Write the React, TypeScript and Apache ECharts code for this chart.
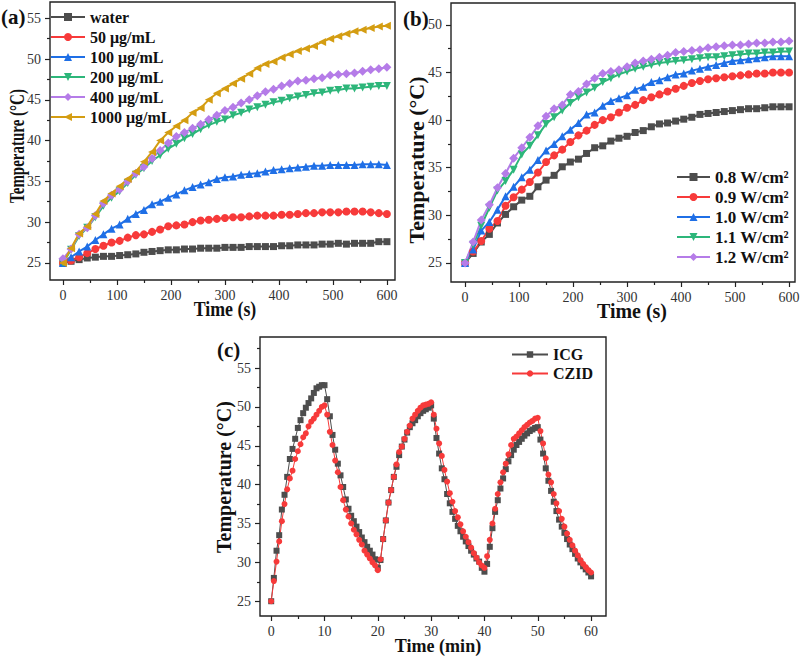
import React, { useEffect, useRef } from "react";
import * as echarts from "echarts";

// ---------- Data ----------
const timeS = [0, 15, 30, 45, 60, 75, 90, 105, 120, 135, 150, 165, 180, 195, 210, 225, 240, 255, 270, 285, 300, 315, 330, 345, 360, 375, 390, 405, 420, 435, 450, 465, 480, 495, 510, 525, 540, 555, 570, 585, 600];

// Panel (a): concentration series
const concNames = ["water", "50 μg/mL", "100 μg/mL", "200 μg/mL", "400 μg/mL", "1000 μg/mL"];
const water = [25.0, 25.2, 25.4, 25.6, 25.7, 25.8, 25.8, 25.9, 26.0, 26.1, 26.3, 26.4, 26.5, 26.6, 26.6, 26.7, 26.7, 26.8, 26.8, 26.8, 26.9, 26.9, 26.9, 27.0, 27.0, 27.0, 27.0, 27.1, 27.1, 27.2, 27.2, 27.2, 27.3, 27.3, 27.4, 27.3, 27.4, 27.4, 27.4, 27.6, 27.6];
const c50 = [25.0, 25.3, 25.7, 26.2, 26.7, 27.1, 27.5, 27.7, 28.1, 28.4, 28.5, 28.8, 29.1, 29.5, 29.6, 29.7, 30.0, 30.2, 30.3, 30.4, 30.5, 30.6, 30.6, 30.7, 30.8, 30.8, 30.8, 30.9, 30.9, 31.0, 31.1, 31.1, 31.2, 31.2, 31.2, 31.3, 31.3, 31.3, 31.2, 31.1, 31.0];
const c100 = [25.0, 25.7, 26.4, 27.0, 27.8, 28.5, 29.2, 29.7, 30.4, 31.0, 31.5, 32.2, 32.5, 33.0, 33.4, 33.9, 34.3, 34.6, 34.9, 35.3, 35.5, 35.6, 35.8, 35.9, 36.0, 36.2, 36.4, 36.5, 36.6, 36.7, 36.8, 36.9, 36.9, 37.0, 37.0, 37.0, 37.0, 37.1, 37.1, 37.1, 37.0];
const c200 = [25.0, 26.6, 28.3, 29.3, 30.6, 32.0, 33.0, 33.8, 34.8, 35.8, 36.6, 37.5, 38.2, 39.0, 39.6, 40.3, 40.8, 41.4, 41.9, 42.3, 42.6, 43.1, 43.4, 43.8, 44.1, 44.4, 44.7, 44.9, 45.2, 45.4, 45.6, 45.8, 45.9, 46.1, 46.2, 46.4, 46.4, 46.5, 46.6, 46.7, 46.7];
const c400 = [25.5, 26.7, 28.5, 29.3, 30.8, 32.3, 33.3, 34.0, 35.0, 36.0, 36.8, 37.8, 38.8, 39.7, 40.5, 41.0, 41.5, 42.0, 42.6, 43.1, 43.7, 44.1, 44.6, 45.0, 45.5, 46.0, 46.3, 46.7, 47.0, 47.3, 47.4, 47.6, 47.7, 48.0, 48.1, 48.2, 48.3, 48.5, 48.7, 48.8, 49.0];
const c1000 = [25.0, 26.8, 28.6, 29.5, 31.0, 32.6, 33.5, 34.4, 35.3, 36.2, 37.4, 38.6, 40.0, 41.0, 41.8, 42.5, 43.4, 44.0, 45.0, 45.8, 46.4, 47.0, 47.6, 48.2, 48.9, 49.4, 49.7, 50.2, 50.6, 51.0, 51.3, 51.6, 52.1, 52.5, 52.8, 53.1, 53.4, 53.6, 53.8, 54.0, 54.1];

// Panel (b): power density series
const powerNames = ["0.8 W/cm²", "0.9 W/cm²", "1.0 W/cm²", "1.1 W/cm²", "1.2 W/cm²"];
const p08 = [25.0, 26.0, 27.2, 28.0, 29.2, 30.1, 30.9, 31.6, 32.0, 33.0, 33.7, 34.2, 35.1, 35.6, 35.9, 36.5, 37.1, 37.3, 37.8, 38.1, 38.3, 38.7, 38.9, 39.3, 39.6, 39.7, 39.9, 40.1, 40.3, 40.6, 40.7, 40.8, 40.9, 41.0, 41.1, 41.2, 41.2, 41.3, 41.4, 41.4, 41.4];
const p09 = [25.0, 26.2, 27.3, 28.6, 29.4, 31.0, 31.9, 32.7, 33.5, 34.5, 35.6, 36.3, 36.9, 37.7, 38.4, 38.9, 39.5, 40.0, 40.3, 40.8, 41.3, 41.6, 42.1, 42.4, 42.7, 43.0, 43.3, 43.6, 43.9, 44.1, 44.3, 44.4, 44.5, 44.6, 44.7, 44.8, 44.9, 44.9, 45.0, 45.0, 45.0];
const p10 = [25.0, 26.4, 28.4, 29.3, 30.6, 32.0, 33.0, 34.0, 34.8, 35.8, 36.8, 37.5, 38.3, 39.0, 39.7, 40.6, 40.8, 41.5, 42.0, 42.3, 42.6, 43.2, 43.5, 44.0, 44.2, 44.5, 44.8, 44.9, 45.2, 45.4, 45.6, 45.8, 46.0, 46.2, 46.3, 46.4, 46.5, 46.6, 46.7, 46.7, 46.7];
const p11 = [25.0, 26.9, 28.9, 30.8, 32.6, 33.6, 34.8, 36.4, 37.3, 38.4, 39.6, 40.3, 41.0, 41.8, 42.4, 42.9, 43.4, 44.0, 44.4, 44.8, 45.1, 45.4, 45.6, 45.8, 46.0, 46.1, 46.2, 46.3, 46.4, 46.5, 46.6, 46.6, 46.7, 46.8, 46.9, 47.0, 47.0, 47.1, 47.1, 47.2, 47.2];
const p12 = [25.0, 27.2, 29.5, 31.1, 32.9, 34.4, 36.0, 37.1, 38.2, 39.4, 40.4, 41.2, 41.6, 42.7, 43.0, 43.8, 44.4, 44.9, 45.1, 45.3, 45.6, 46.0, 46.2, 46.4, 46.6, 46.8, 47.1, 47.2, 47.3, 47.4, 47.6, 47.7, 47.8, 47.9, 47.9, 48.0, 48.1, 48.1, 48.2, 48.2, 48.3];

// Panel (c): heating/cooling cycles
const timeMin = [
  0, 0.5, 1, 1.5, 2, 2.5, 3, 3.5, 4, 4.5, 5, 5.5, 6, 6.5, 7, 7.5, 8, 8.5, 9, 9.5, 10,
  10.5, 11, 11.5, 12, 12.5, 13, 13.5, 14, 14.5, 15, 15.5, 16, 16.5, 17, 17.5, 18, 18.5, 19, 19.5, 20,
  20.5, 21, 21.5, 22, 22.5, 23, 23.5, 24, 24.5, 25, 25.5, 26, 26.5, 27, 27.5, 28, 28.5, 29, 29.5, 30,
  30.5, 31, 31.5, 32, 32.5, 33, 33.5, 34, 34.5, 35, 35.5, 36, 36.5, 37, 37.5, 38, 38.5, 39, 39.5, 40,
  40.5, 41, 41.5, 42, 42.5, 43, 43.5, 44, 44.5, 45, 45.5, 46, 46.5, 47, 47.5, 48, 48.5, 49, 49.5, 50,
  50.5, 51, 51.5, 52, 52.5, 53, 53.5, 54, 54.5, 55, 55.5, 56, 56.5, 57, 57.5, 58, 58.5, 59, 59.5, 60,
];
const icg = [
  25.0, 28.0, 31.5, 33.5, 36.8, 38.7, 41.0, 43.3, 44.6, 45.9, 47.3, 48.3, 49.2, 49.9, 50.5, 51.1, 51.8, 52.4, 52.6, 52.8, 52.8,
  51.0, 48.8, 46.4, 44.5, 42.7, 41.2, 39.7, 38.1, 36.9, 36.0, 35.3, 34.6, 33.9, 33.2, 32.6, 32.0, 31.5, 31.0, 30.4, 29.3,
  30.3, 33.0, 35.4, 37.7, 39.3, 41.0, 42.3, 43.8, 44.9, 45.8, 46.7, 47.4, 47.9, 48.3, 48.8, 49.2, 49.5, 49.7, 49.9, 50.2,
  48.5, 46.0, 44.0, 42.1, 40.7, 38.8, 37.6, 36.5, 35.6, 34.7, 34.0, 33.3, 32.7, 32.1, 31.5, 31.0, 30.5, 30.1, 29.3, 28.8,
  29.8, 32.0, 34.4, 36.5, 38.0, 39.5, 40.8, 42.0, 43.0, 43.8, 44.5, 45.1, 45.5, 45.9, 46.3, 46.6, 46.9, 47.1, 47.3, 47.4,
  45.8, 44.0, 42.1, 40.5, 39.2, 37.8, 36.6, 35.5, 34.6, 33.8, 33.0, 32.3, 31.7, 31.1, 30.5, 30.0, 29.5, 29.1, 28.7, 28.2,
];
const czid = [
  25.0, 27.6, 30.1, 32.7, 35.3, 37.5, 39.4, 40.8, 41.8, 43.3, 44.3, 45.2, 46.1, 46.6, 47.5, 48.1, 48.5, 49.0, 49.5, 50.0, 50.2,
  49.0, 46.8, 45.1, 43.1, 41.6, 39.7, 38.0, 36.8, 35.9, 35.0, 34.2, 33.6, 32.9, 32.3, 31.5, 31.0, 30.5, 30.0, 29.6, 29.0,
  30.4, 33.0, 35.4, 37.7, 39.3, 41.0, 42.6, 44.2, 44.9, 45.9, 46.8, 47.6, 48.5, 49.0, 49.5, 49.9, 50.2, 50.3, 50.4, 50.6,
  49.0, 47.2, 45.3, 43.7, 41.9, 40.4, 38.9, 37.8, 36.6, 35.8, 34.9, 34.0, 33.3, 32.6, 31.9, 31.2, 30.6, 30.0, 29.6, 29.3,
  30.8, 32.9, 35.0, 36.9, 38.8, 40.3, 41.6, 42.7, 43.9, 45.1, 45.9, 46.2, 46.6, 47.0, 47.4, 47.7, 48.0, 48.2, 48.5, 48.6,
  46.9, 45.3, 43.4, 41.3, 40.3, 38.8, 37.6, 36.6, 35.6, 34.6, 33.7, 32.9, 32.2, 31.5, 30.9, 30.3, 29.8, 29.4, 29.0, 28.7,
];
const cycleNames = ["ICG", "CZID"];

// Tick values
const ticksS = [0, 100, 200, 300, 400, 500, 600];
const minorS = [50, 150, 250, 350, 450, 550];
const ticksYa = [25, 30, 35, 40, 45, 50, 55];
const minorYa = [27.5, 32.5, 37.5, 42.5, 47.5, 52.5];
const ticksYb = [25, 30, 35, 40, 45, 50];
const minorYb = [27.5, 32.5, 37.5, 42.5, 47.5];
const ticksMin = [0, 10, 20, 30, 40, 50, 60];
const minorMin = [5, 15, 25, 35, 45, 55];
const ticksYc = [25, 30, 35, 40, 45, 50, 55];
const minorYc = [27.5, 32.5, 37.5, 42.5, 47.5, 52.5, 57.5];

// ---------- Styles ----------
const SERIF = "Liberation Serif";
const COLORS = {
  gray: "#4d4d4d",
  red: "#f73a3a",
  blue: "#1f6fe6",
  green: "#2db67a",
  purple: "#b57ce8",
  gold: "#d49d12",
};

function pairs(xs: number[], ys: number[]) {
  return xs.map((x, i) => [x, ys[i]]);
}

function mainAxis(gridIndex: number, min: number, max: number, ticks: number[], margin: number, fontSize: number, pos: string) {
  return {
    type: "value",
    gridIndex,
    min,
    max,
    position: pos,
    offset: 0,
    axisLine: { show: false, onZero: false },
    splitLine: { show: false },
    axisTick: { show: true, inside: false, customValues: ticks, length: 5, lineStyle: { color: "#222", width: 1.2 } },
    axisLabel: { customValues: ticks, margin, color: "#333", fontFamily: SERIF, fontSize },
  };
}
function minorAxis(gridIndex: number, min: number, max: number, ticks: number[], pos: string) {
  return {
    type: "value",
    gridIndex,
    min,
    max,
    position: pos,
    offset: 0,
    axisLine: { show: false, onZero: false },
    splitLine: { show: false },
    axisLabel: { show: true, customValues: ticks, formatter: () => "" },
    axisTick: { show: true, inside: false, customValues: ticks, length: 3, lineStyle: { color: "#222", width: 1.2 } },
  };
}

function lineSeries(name: string, data: number[][], axis: number, color: string, symbol: string, rotate: number, size: number, width: number) {
  return {
    type: "line",
    name,
    data,
    xAxisIndex: axis,
    yAxisIndex: axis,
    symbol,
    symbolRotate: rotate,
    symbolSize: size,
    showSymbol: true,
    lineStyle: { color, width },
    itemStyle: { color },
    emphasis: { disabled: true },
  };
}

function titleText(text: string, x: number, y: number, size: number, rot: number, sx: number, align = "center") {
  return {
    type: "text",
    x,
    y,
    rotation: rot,
    scaleX: sx,
    style: {
      text,
      font: `bold ${size}px ${SERIF}`,
      fill: "#111",
      align,
      verticalAlign: "middle",
      textAlign: align,
      textVerticalAlign: "middle",
    },
  };
}

export default function App() {
  const ref = useRef<HTMLDivElement>(null);
  useEffect(() => {
    if (!ref.current) return;
    const chart = echarts.init(ref.current, null, { renderer: "svg" });
    const gridCommon = { show: true, borderColor: "#222", borderWidth: 1.4, backgroundColor: "transparent", containLabel: false, outerBoundsMode: "none" };
    const legendText = (size: number, lh: number) => ({ fontFamily: SERIF, fontWeight: "bold", fontSize: size, color: "#111", lineHeight: lh });

    const option: any = {
      animation: false,
      backgroundColor: "#fff",
      grid: [
        { ...gridCommon, left: 50, top: 2, width: 345, height: 278 },
        { ...gridCommon, left: 451, top: 3, width: 344, height: 279 },
        { ...gridCommon, left: 260, top: 337, width: 346, height: 279 },
      ],
      xAxis: [
        mainAxis(0, -24, 615, ticksS, 8, 14, "bottom"),
        minorAxis(0, -24, 615, minorS, "bottom"),
        mainAxis(1, -26, 611, ticksS, 8, 14, "bottom"),
        minorAxis(1, -26, 611, minorS, "bottom"),
        mainAxis(2, -2.1, 62.8, ticksMin, 8, 14, "bottom"),
        minorAxis(2, -2.1, 62.8, minorMin, "bottom"),
      ],
      yAxis: [
        mainAxis(0, 22.9, 57.0, ticksYa, 9, 14, "left"),
        minorAxis(0, 22.9, 57.0, minorYa, "left"),
        mainAxis(1, 23.0, 52.3, ticksYb, 9, 14, "left"),
        minorAxis(1, 23.0, 52.3, minorYb, "left"),
        mainAxis(2, 23.1, 59.0, ticksYc, 9, 14, "left"),
        minorAxis(2, 23.1, 59.0, minorYc, "left"),
      ],
      legend: [
        {
          left: 50,
          top: 7,
          orient: "vertical",
          itemWidth: 34,
          itemHeight: 10,
          itemGap: 0,
          padding: 0,
          selectedMode: false,
          data: concNames,
          textStyle: legendText(16, 20),
        },
        {
          left: 676,
          top: 167,
          orient: "vertical",
          itemWidth: 33,
          itemHeight: 10,
          itemGap: 0,
          padding: 0,
          selectedMode: false,
          data: powerNames,
          textStyle: legendText(17, 20),
        },
        {
          left: 511,
          top: 345,
          orient: "vertical",
          itemWidth: 36,
          itemHeight: 8,
          itemGap: 0,
          padding: 0,
          selectedMode: false,
          data: cycleNames,
          textStyle: legendText(16, 19),
        },
      ],
      series: [
        lineSeries(concNames[0], pairs(timeS, water), 0, COLORS.gray, "rect", 0, 7, 2),
        lineSeries(concNames[1], pairs(timeS, c50), 0, COLORS.red, "circle", 0, 8, 2),
        lineSeries(concNames[2], pairs(timeS, c100), 0, COLORS.blue, "triangle", 0, 8, 2),
        lineSeries(concNames[3], pairs(timeS, c200), 0, COLORS.green, "triangle", 180, 8, 2),
        lineSeries(concNames[4], pairs(timeS, c400), 0, COLORS.purple, "diamond", 0, 9, 2),
        lineSeries(concNames[5], pairs(timeS, c1000), 0, COLORS.gold, "triangle", 90, 8, 2),

        lineSeries(powerNames[0], pairs(timeS, p08), 2, COLORS.gray, "rect", 0, 7, 2),
        lineSeries(powerNames[1], pairs(timeS, p09), 2, COLORS.red, "circle", 0, 8, 2),
        lineSeries(powerNames[2], pairs(timeS, p10), 2, COLORS.blue, "triangle", 0, 8, 2),
        lineSeries(powerNames[3], pairs(timeS, p11), 2, COLORS.green, "triangle", 180, 8, 2),
        lineSeries(powerNames[4], pairs(timeS, p12), 2, COLORS.purple, "diamond", 0, 9, 2),

        lineSeries(cycleNames[0], pairs(timeMin, icg), 4, COLORS.gray, "rect", 0, 6, 1),
        lineSeries(cycleNames[1], pairs(timeMin, czid), 4, COLORS.red, "circle", 0, 6, 1),
      ],
      graphic: [
        titleText("(a)", 1, 17, 21, 0, 1, "left"),
        titleText("(b)", 403, 19, 21, 0, 1, "left"),
        titleText("(c)", 217, 350, 21, 0, 1, "left"),
        titleText("Time (s)", 225, 309, 21, 0, 0.85),
        titleText("Temperature (°C)", 17, 146, 20, Math.PI / 2, 0.75),
        titleText("Time (s)", 632, 311, 21, 0, 0.95),
        titleText("Temperature (°C)", 416, 160, 22, Math.PI / 2, 1),
        titleText("Time (min)", 438, 645, 19, 0, 0.95),
        titleText("Temperature (°C)", 224, 477, 20, Math.PI / 2, 1),
      ],
    };
    chart.setOption(option);
    return () => chart.dispose();
  }, []);
  return (
    <div
      ref={ref}
      style={{ position: "fixed", left: 0, top: 0, width: 800, height: 656, background: "#fff" }}
    />
  );
}
